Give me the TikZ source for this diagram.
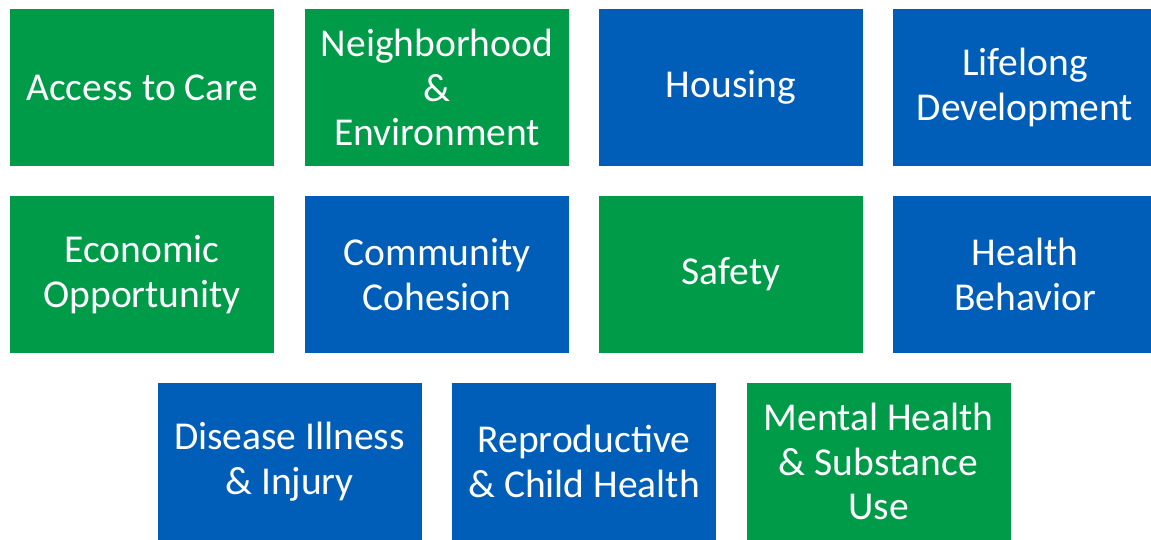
\documentclass[tikz,border=0pt]{standalone}
\usepackage{fontspec}
\setmainfont{Carlito}
\definecolor{boxgreen}{HTML}{009B48}
\definecolor{boxblue}{HTML}{005EB8}
\begin{document}
\begin{tikzpicture}[x=1pt,y=-1pt,
  tile/.style={minimum width=264pt,minimum height=157pt,inner sep=0pt,outer sep=0pt,
    text=white,align=center,font=\fontsize{39.5pt}{44.5pt}\selectfont},
  gtile/.style={tile,fill=boxgreen},
  btile/.style={tile,fill=boxblue}]
\useasboundingbox (0,0) rectangle (1151,539);
\clip (0,0) rectangle (1151,539);
\node[gtile] (access) at (142,87.5) {Access to Care};
\node[gtile] (neigh) at (437,87.5) {Neighborhood\\\&\\Environment};
\node[btile] (housing) at (731,87.5) {Housing};
\node[btile] (lifelong) at (1025,87.5) {Lifelong\\Development};
\node[gtile] (econ) at (142,274.5) {Economic\\Opportunity};
\node[btile] (comm) at (437,274.5) {Community\\Cohesion};
\node[gtile] (safety) at (731,274.5) {Safety};
\node[btile] (behav) at (1025,274.5) {Health\\Behavior};
\node[btile] (disease) at (289.5,461.5) {Disease Illness\\\& Injury};
\node[btile] (repro) at (584,461.5) {Reproductive\\\& Child Health};
\node[gtile] (mental) at (878.5,461.5) {Mental Health\\\& Substance\\Use};
\end{tikzpicture}
\end{document}
